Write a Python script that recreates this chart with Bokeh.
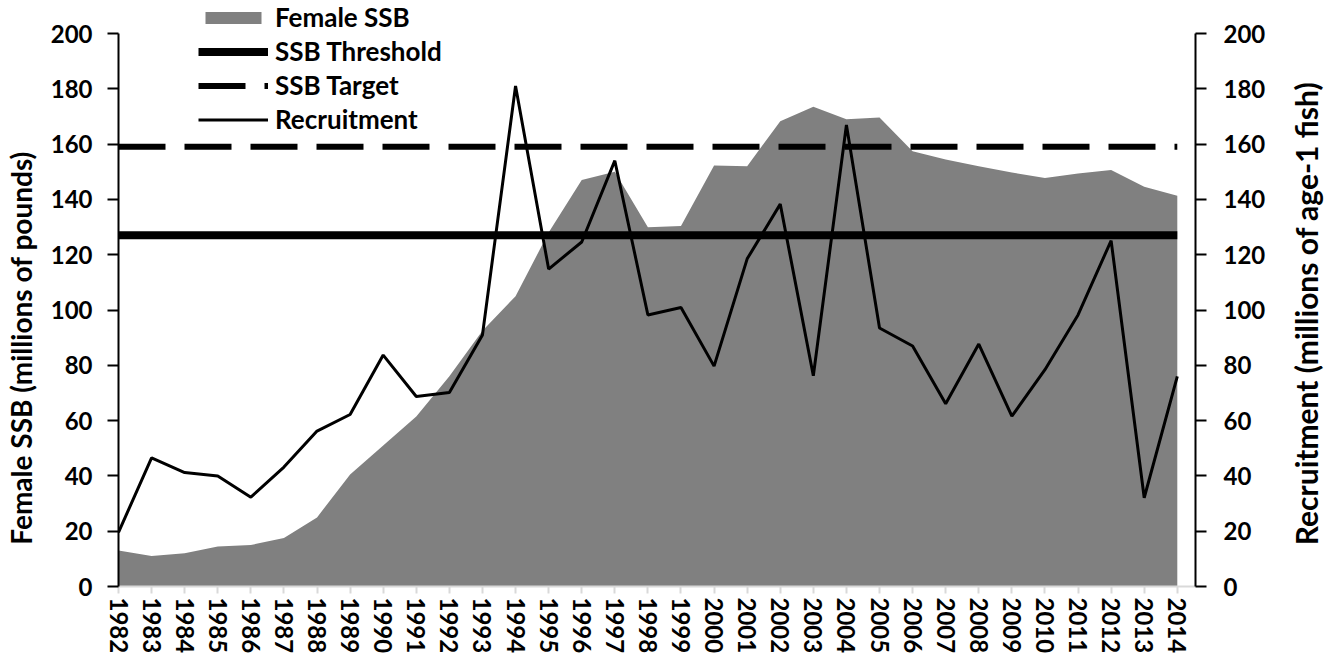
import math
from bokeh.plotting import figure
from bokeh.layouts import row
from bokeh.models import Range1d, LinearAxis, FixedTicker, Label
from bokeh.embed import file_html
from bokeh.resources import INLINE

years = list(range(1982, 2015))
female_ssb = [13, 11, 12, 14.5, 15, 17.5, 25, 40.5, 51, 61.5, 76, 92.5, 105,
              128, 147, 150, 129.9, 130.4, 152.3, 152, 168.3, 173.5, 169, 169.6,
              157.4, 154.4, 152, 149.7, 147.7, 149.4, 150.6, 144.6, 141.3]
recruitment = [19.6, 46.5, 41.2, 40, 32.3, 43.2, 56.2, 62.2, 83.7, 68.7, 70.2, 91,
               181, 114.8, 124.6, 154, 98.2, 100.9, 79.7, 118.5, 138.3, 76.2, 166.9,
               93.5, 87, 66.1, 87.7, 61.6, 78.4, 98.2, 125.1, 32.1, 76]
ssb_threshold = 127
ssb_target = 159
y_ticks = list(range(0, 201, 20))
y_max = 200
left_title = "Female SSB (millions of pounds)"
right_title = "Recruitment (millions of age-1 fish)"

FONT = "Lato"
NB = "\u00a0"

W_MAIN = 1284
W_SIDE = 50
H = 665

# frame spans the full height above the x axis; the axes themselves stop at 200
FRAME_H = 586
TOP_PAD = 33
y_top = y_max * FRAME_H / (FRAME_H - TOP_PAD)

p = figure(width=W_MAIN, height=H, output_backend="svg", toolbar_location=None,
           x_range=Range1d(1982, 2014.55), y_range=Range1d(0, y_top),
           min_border_left=118, min_border_right=W_MAIN - 1195, min_border_top=0,
           min_border_bottom=H - FRAME_H)
p.outline_line_color = None
p.xgrid.visible = False
p.ygrid.visible = False
p.background_fill_color = "white"
p.border_fill_color = "white"

p.extra_y_ranges = {"right": Range1d(0, y_top)}

r_area = p.varea(x=years, y1=[0] * len(years), y2=female_ssb, fill_color="#808080",
                 legend_label="Female SSB")
r_thr = p.line([years[0], years[-1]], [ssb_threshold, ssb_threshold], line_color="black",
               line_width=8, legend_label="SSB Threshold")
r_tgt = p.line([years[0], years[-1]], [ssb_target, ssb_target], line_color="black",
               line_width=6, line_dash="47 19", legend_label="SSB Target")
r_rec = p.line(years, recruitment, line_color="black", line_width=3,
               y_range_name="right", legend_label="Recruitment")

# bottom axis
xa = p.xaxis[0]
xa.ticker = FixedTicker(ticks=years)
xa.axis_line_color = "#d9d9d9"
xa.axis_line_width = 2
xa.major_tick_line_color = "#d9d9d9"
xa.major_tick_line_width = 2
xa.major_tick_out = 7
xa.major_tick_in = 0
xa.minor_tick_line_color = None
xa.major_label_orientation = -math.pi / 2
xa.major_label_text_font = FONT
xa.major_label_text_font_style = "bold"
xa.major_label_text_font_size = "24px"
xa.major_label_text_color = "black"
xa.major_label_standoff = 4

def style_y(ax, standoff):
    ax.ticker = FixedTicker(ticks=y_ticks)
    ax.bounds = (0, y_max)
    ax.axis_line_color = "black"
    ax.axis_line_width = 2
    ax.major_tick_line_color = "black"
    ax.major_tick_line_width = 2
    ax.major_tick_out = 11
    ax.major_tick_in = 0
    ax.minor_tick_line_color = None
    ax.major_label_text_font = FONT
    ax.major_label_text_font_style = "bold"
    ax.major_label_text_font_size = "24px"
    ax.major_label_text_color = "black"
    ax.major_label_standoff = standoff
    ax.axis_label_text_font = FONT
    ax.axis_label_text_font_style = "bold"
    ax.axis_label_text_font_size = "28px"
    ax.axis_label_text_color = "black"

ya = p.yaxis[0]
style_y(ya, 15)
ya.axis_label = left_title + NB * 16
ya.axis_label_standoff = 10

ra = LinearAxis(y_range_name="right")
style_y(ra, 17)
p.add_layout(ra, "right")

leg = p.legend[0]
leg.location = (80, 451)
leg.background_fill_alpha = 0
leg.border_line_color = None
leg.padding = 0
leg.margin = 0
leg.spacing = 2
leg.glyph_width = 70
leg.glyph_height = 15
leg.label_height = 20
leg.label_standoff = 7
leg.label_text_font = FONT
leg.label_text_font_style = "bold"
leg.label_text_font_size = "26px"
leg.label_text_color = "black"

# narrow side panel that carries the right-hand axis title (reads bottom-to-top)
side = figure(width=W_SIDE, height=H, output_backend="svg", toolbar_location=None,
              x_range=Range1d(0, W_SIDE), y_range=Range1d(0, H),
              x_axis_type=None, y_axis_type=None,
              min_border_left=0, min_border_right=0, min_border_top=0, min_border_bottom=0)
side.outline_line_color = None
side.xgrid.visible = False
side.ygrid.visible = False
side.background_fill_color = "white"
side.border_fill_color = "white"
side.add_layout(Label(x=21, y=273, x_units="screen", y_units="screen",
                      text=right_title, angle=math.pi / 2, text_align="center",
                      text_baseline="middle", text_font=FONT, text_font_style="bold",
                      text_font_size="30px", text_color="black"))

layout = row(p, side, spacing=0)
open("out.html", "w").write(file_html(layout, INLINE))
